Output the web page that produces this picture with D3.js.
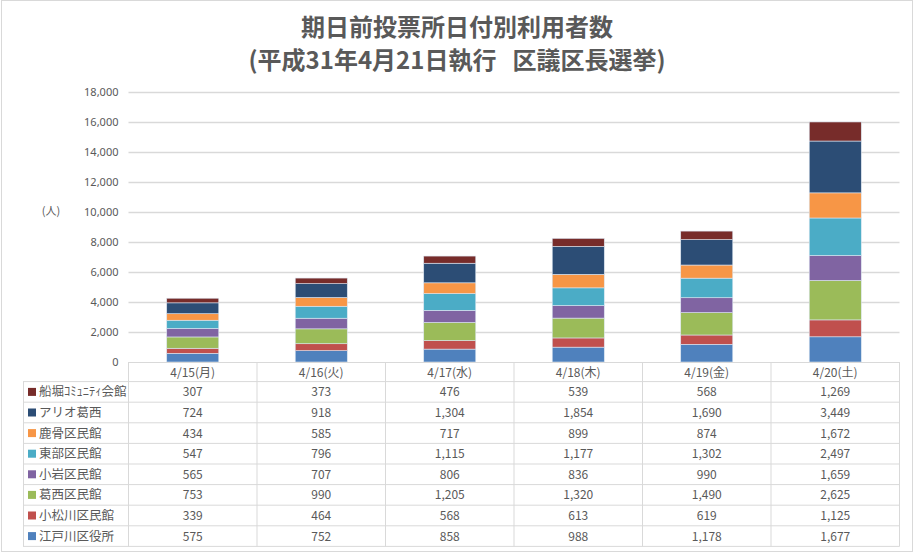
<!DOCTYPE html>
<html>
<head>
<meta charset="utf-8">
<script src="https://cdn.jsdelivr.net/npm/d3@7"></script>
<style>
  body { margin: 0; background: #fff; }
  svg { display: block; font-family: "Noto Sans CJK JP", "Noto Sans", sans-serif; }
</style>
</head>
<body>
<svg id="chart" width="915" height="554"></svg>
<script>
// dates (columns)
const days = ['4/15(月)', '4/16(火)', '4/17(水)', '4/18(木)', '4/19(金)', '4/20(土)'];

// series, bottom of stack first
const places = ['江戸川区役所', '小松川区民館', '葛西区民館', '小岩区民館', '東部区民館', '鹿骨区民館', 'アリオ葛西', '船堀ｺﾐｭﾆﾃｨ会館'];
const colors = ['#4F81BD', '#C0504D', '#9BBB59', '#8064A2', '#4BACC6', '#F79646', '#2C4D75', '#772C2A'];

const edogawa   = [575, 752, 858, 988, 1178, 1677];
const komatsu   = [339, 464, 568, 613, 619, 1125];
const kasai     = [753, 990, 1205, 1320, 1490, 2625];
const koiwa     = [565, 707, 806, 836, 990, 1659];
const tobu      = [547, 796, 1115, 1177, 1302, 2497];
const shishibone= [434, 585, 717, 899, 874, 1672];
const ario      = [724, 918, 1304, 1854, 1690, 3449];
const funabori  = [307, 373, 476, 539, 568, 1269];

const seriesVals = [edogawa, komatsu, kasai, koiwa, tobu, shishibone, ario, funabori];
const yTicks = [0, 2000, 4000, 6000, 8000, 10000, 12000, 14000, 16000, 18000];

// rows for d3.stack
const rows = days.map((d, i) => {
  const r = {day: d};
  places.forEach((p, j) => { r[p] = seriesVals[j][i]; });
  return r;
});

const svg = d3.select('#chart');
const textCol = '#595959';
const lineCol = '#d9d9d9';

// outer frame
svg.append('rect')
  .attr('x', 1.5).attr('y', 0.5).attr('width', 911).attr('height', 551)
  .attr('fill', 'none').attr('stroke', lineCol);

// title
svg.append('text').attr('x', 457).attr('y', 36)
  .attr('text-anchor', 'middle').attr('font-size', 24).attr('font-weight', 'bold')
  .attr('fill', textCol).text('期日前投票所日付別利用者数');
const t2 = svg.append('text').attr('x', 457).attr('y', 69)
  .attr('text-anchor', 'middle').attr('font-size', 24).attr('font-weight', 'bold')
  .attr('fill', textCol);
t2.append('tspan').text('(平成31年4月21日執行');
t2.append('tspan').attr('dx', 16).text('区議区長選挙)');

const plotL = 128.5, plotR = 899.5, plotT = 91.5, plotB = 362;

const x = d3.scaleBand().domain(days).range([plotL, plotR])
  .paddingInner(0.595).paddingOuter(0.2975);
const col = d3.scaleBand().domain(days).range([plotL, plotR]);
const y = d3.scaleLinear().domain([0, 18000]).range([plotB, plotT]);

// gridlines
svg.append('g').selectAll('line').data(yTicks.filter(t => t > 0)).join('line')
  .attr('x1', plotL).attr('x2', plotR)
  .attr('y1', d => Math.round(y(d)) + 0.5).attr('y2', d => Math.round(y(d)) + 0.5)
  .attr('stroke', lineCol).attr('stroke-width', 1.3);

// y axis labels
const yAxis = svg.append('g').attr('transform', `translate(${plotL - 10},0)`)
  .call(d3.axisLeft(y).tickValues(yTicks).tickSize(0).tickPadding(0).tickFormat(d3.format(',')));
yAxis.select('.domain').remove();
yAxis.selectAll('text').attr('fill', textCol).attr('font-size', 11)
  .attr('font-family', '"Noto Sans", sans-serif');

svg.append('text').attr('x', 51).attr('y', 215).attr('text-anchor', 'middle')
  .attr('font-size', 11).attr('fill', textCol).text('(人)');

// stacked bars
const stack = d3.stack().keys(places)(rows);
svg.append('g').selectAll('g').data(stack).join('g')
  .attr('fill', (d, i) => colors[i])
  .selectAll('rect').data(d => d).join('rect')
  .attr('x', d => x(d.data.day))
  .attr('width', x.bandwidth())
  .attr('y', d => y(d[1]))
  .attr('height', d => y(d[0]) - y(d[1]))
  .attr('stroke', '#dce6f2').attr('stroke-width', 0.6);

// data table
const rowH = 20.6;
const headBot = plotB + rowH - 1;
const tableBot = headBot + rowH * places.length;
const legLeft = 23;
const tbl = svg.append('g');
const tableRows = places.slice().reverse();
const tableColors = colors.slice().reverse();
const tableVals = seriesVals.slice().reverse();
const fmt = d3.format(',');

// horizontal rules
tbl.append('line').attr('x1', plotL).attr('x2', plotR)
  .attr('y1', plotB + 0.5).attr('y2', plotB + 0.5).attr('stroke', lineCol);
tbl.selectAll('line.h').data(d3.range(places.length + 1)).join('line').attr('class', 'h')
  .attr('x1', legLeft).attr('x2', plotR)
  .attr('y1', i => headBot + i * rowH).attr('y2', i => headBot + i * rowH)
  .attr('stroke', lineCol);
// vertical rules
tbl.append('line').attr('x1', legLeft + 0.5).attr('x2', legLeft + 0.5)
  .attr('y1', headBot).attr('y2', tableBot).attr('stroke', lineCol);
tbl.selectAll('line.v').data(d3.range(days.length + 1)).join('line').attr('class', 'v')
  .attr('x1', i => plotL + i * col.step()).attr('x2', i => plotL + i * col.step())
  .attr('y1', plotB).attr('y2', tableBot).attr('stroke', lineCol);

// header labels
tbl.selectAll('text.day').data(days).join('text').attr('class', 'day')
  .attr('x', d => col(d) + col.bandwidth() / 2).attr('y', plotB + 14.5)
  .attr('text-anchor', 'middle').attr('font-size', 12).attr('fill', textCol).text(d => d);

// row labels with swatches
tableRows.forEach((name, r) => {
  const cy = headBot + r * rowH + rowH / 2;
  tbl.append('rect').attr('x', 28).attr('y', cy - 4).attr('width', 8).attr('height', 8)
    .attr('fill', tableColors[r]);
  tbl.append('text').attr('x', 39).attr('y', cy + 4.5).attr('font-size', 12.5)
    .attr('fill', textCol).text(name);
  tbl.selectAll(null).data(tableVals[r]).join('text')
    .attr('x', (v, i) => col(days[i]) + col.bandwidth() / 2).attr('y', cy + 4.5)
    .attr('text-anchor', 'middle').attr('font-size', 12).attr('fill', textCol)
    .text(v => fmt(v));
});
</script>
</body>
</html>
